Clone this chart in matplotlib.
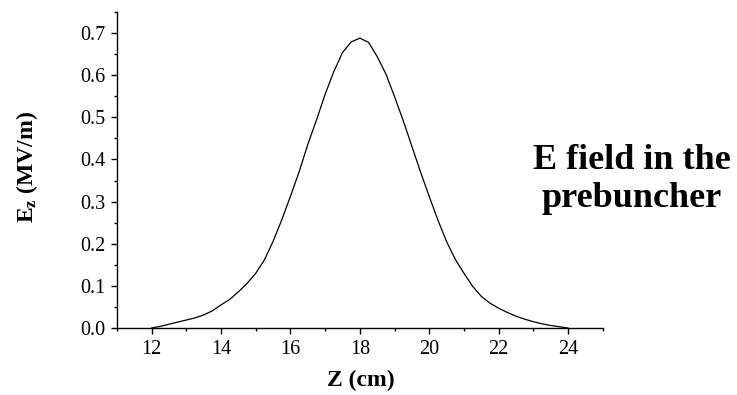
import matplotlib
matplotlib.use("Agg")
import matplotlib.pyplot as plt
from matplotlib.ticker import MultipleLocator

plt.rcParams['font.family'] = ['Liberation Serif', 'DejaVu Serif']
plt.rcParams['mathtext.fontset'] = 'custom'
plt.rcParams['mathtext.rm'] = 'Liberation Serif'
plt.rcParams['mathtext.bf'] = 'Liberation Serif:bold'

# E field along the prebuncher axis
z_cm = [12.0, 12.25, 12.5, 12.75, 13.0, 13.25, 13.5, 13.75, 14.0, 14.25, 14.5, 14.75,
        15.0, 15.25, 15.5, 15.75, 16.0, 16.25, 16.5, 16.75, 17.0, 17.25, 17.5, 17.75,
        18.0, 18.25, 18.5, 18.75, 19.0, 19.25, 19.5, 19.75, 20.0, 20.25, 20.5, 20.75,
        21.0, 21.25, 21.5, 21.75, 22.0, 22.25, 22.5, 22.75, 23.0, 23.25, 23.5, 23.75, 24.0]
ez = [0.0, 0.004, 0.009, 0.014, 0.019, 0.024, 0.031, 0.041, 0.055, 0.068, 0.086, 0.106,
      0.130, 0.162, 0.206, 0.257, 0.313, 0.371, 0.436, 0.494, 0.555, 0.609, 0.654, 0.679,
      0.688, 0.678, 0.644, 0.603, 0.549, 0.492, 0.431, 0.370, 0.312, 0.256, 0.205, 0.163,
      0.130, 0.099, 0.075, 0.059, 0.047, 0.037, 0.028, 0.021, 0.015, 0.010, 0.006, 0.003, 0.0]

xticks = [12, 14, 16, 18, 20, 22, 24]
yticks = [0.0, 0.1, 0.2, 0.3, 0.4, 0.5, 0.6, 0.7]

fig = plt.figure(figsize=(7.37, 3.95), dpi=100)
ax = fig.add_axes([0.1588, 0.1696, 0.659, 0.80])

ax.plot(z_cm, ez, color='black', linewidth=0.9)

ax.set_xlim(11, 25)
ax.set_ylim(0, 0.75)
ax.set_xticks(xticks)
ax.set_yticks(yticks)
ax.set_yticklabels([f"{v:.1f}" for v in yticks])
ax.xaxis.set_minor_locator(MultipleLocator(1))
ax.yaxis.set_minor_locator(MultipleLocator(0.05))

for side in ['top', 'right']:
    ax.spines[side].set_visible(False)
for side in ['left', 'bottom']:
    ax.spines[side].set_linewidth(1.0)

ax.tick_params(which='major', direction='out', length=4.5, width=1.0, labelsize=14.5, pad=4)
ax.tick_params(which='minor', direction='out', length=2.5, width=1.0)

ax.set_xlabel('Z (cm)', fontsize=17, fontweight='bold')
ax.set_ylabel(r'$\mathbf{E_z}$ (MV/m)', fontsize=17, fontweight='bold')
ax.yaxis.set_label_coords(-0.158, 0.51)
ax.xaxis.set_label_coords(0.502, -0.134)

fig.text(0.857, 0.545, 'E field in the\nprebuncher', fontsize=26, fontweight='bold',
         ha='center', va='center', linespacing=1.2)

fig.savefig('out.png', dpi=100)
